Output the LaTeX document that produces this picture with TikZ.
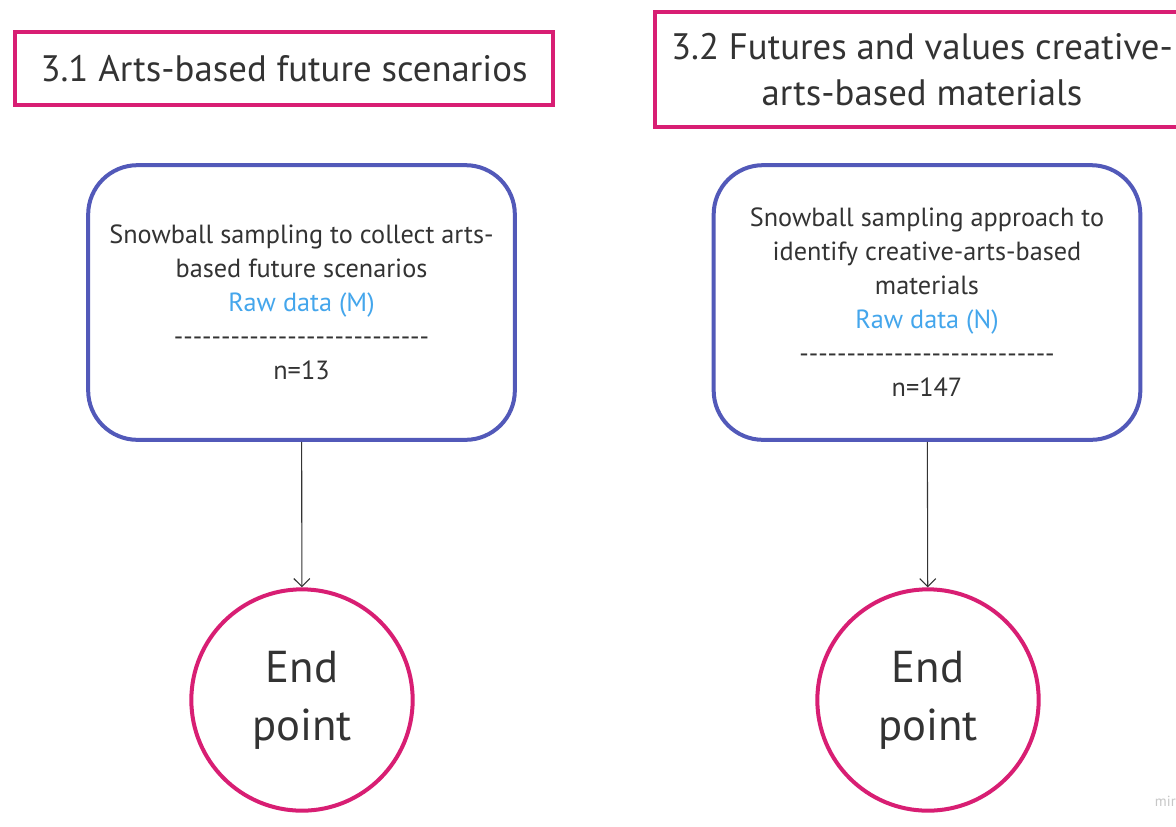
\documentclass[tikz,border=0pt]{standalone}
\usepackage{fontspec}
\setmainfont{PT Sans}
\usetikzlibrary{arrows.meta}
\definecolor{pinkc}{HTML}{D81E73}
\definecolor{bluec}{HTML}{5259B9}
\definecolor{rawc}{HTML}{44A6EC}
\definecolor{txtc}{HTML}{333333}
\newcommand\dashrow{-{}-{}-{}-{}-{}-{}-{}-{}-{}-{}-{}-{}-{}-{}-{}-{}-{}-{}-{}-{}-{}-{}-{}-{}-{}-{}-}
\tikzset{
  titlebox/.style={draw=pinkc, line width=3pt, fill=white, text=txtc, align=center,
    inner sep=0pt, font=\fontsize{27.6}{34}\selectfont},
  stepbox/.style={draw=bluec, line width=3pt, rounded corners=37pt, align=center,
    minimum width=320pt, minimum height=206pt, inner sep=0pt, text=txtc,
    font=\fontsize{19.7}{25.5}\selectfont},
  endnode/.style={circle, draw=pinkc, line width=3pt, minimum size=166pt, inner sep=0pt,
    text=txtc, align=center, font=\fontsize{33.5}{43.5}\selectfont},
  conn/.style={draw=txtc, line width=0.8pt, -{Straight Barb[length=6pt,width=12pt,line width=0.8pt]}}
}
\begin{document}
\begin{tikzpicture}[x=0.75pt,y=-0.75pt]
\useasboundingbox[fill=white] (0,0) rectangle (1176,826);
\node[titlebox, minimum width=403pt, minimum height=54.5pt] (t1) at (284,68.5) {3.1 Arts-based future scenarios};
\node[titlebox, minimum width=400pt, minimum height=86pt] (t2) at (922,69.5) {3.2 Futures and values creative-\\arts-based materials};
\node[stepbox] (b1) at (301.5,302.5) {Snowball sampling to collect arts-\\based future scenarios\\\textcolor{rawc}{Raw data (M)}\\\dashrow\\n=13};
\node[stepbox] (b2) at (927,302.5) {Snowball sampling approach to\\identify creative-arts-based\\materials\\\textcolor{rawc}{Raw data (N)}\\\dashrow\\n=147};
\node[endnode] (e1) at (302,700) {End\\point};
\node[endnode] (e2) at (928,700) {End\\point};
\draw[conn] (b1) -- (e1);
\draw[conn] (b2) -- (e2);
\node[anchor=east, text=black!22, inner sep=0pt, font=\fontsize{11}{13}\selectfont] (wm) at (1176,801) {mir};
\end{tikzpicture}
\end{document}
